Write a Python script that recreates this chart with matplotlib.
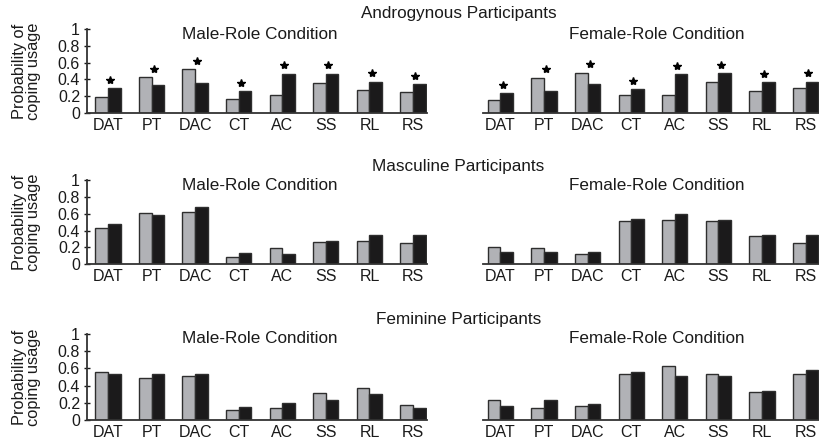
import numpy as np
import matplotlib
matplotlib.use("Agg")
from matplotlib import pyplot as plt

plt.rcParams['font.family'] = ['Liberation Sans', 'DejaVu Sans']

strategies = ['DAT', 'PT', 'DAC', 'CT', 'AC', 'SS', 'RL', 'RS']
groups = ['Androgynous Participants', 'Masculine Participants', 'Feminine Participants']
conditions = ['Male-Role Condition', 'Female-Role Condition']

# gray bars / black bars, one list per group and condition
andro_male_gray = [0.19, 0.43, 0.52, 0.17, 0.22, 0.36, 0.28, 0.25]
andro_male_black = [0.295, 0.335, 0.355, 0.26, 0.47, 0.47, 0.375, 0.345]
andro_female_gray = [0.155, 0.42, 0.48, 0.215, 0.215, 0.375, 0.267, 0.295]
andro_female_black = [0.235, 0.26, 0.347, 0.287, 0.462, 0.474, 0.367, 0.375]

masc_male_gray = [0.43, 0.605, 0.625, 0.087, 0.19, 0.26, 0.28, 0.253]
masc_male_black = [0.478, 0.59, 0.68, 0.134, 0.126, 0.273, 0.352, 0.352]
masc_female_gray = [0.20, 0.19, 0.123, 0.518, 0.53, 0.518, 0.332, 0.253]
masc_female_black = [0.146, 0.146, 0.146, 0.54, 0.597, 0.526, 0.352, 0.352]

fem_male_gray = [0.553, 0.494, 0.514, 0.12, 0.136, 0.311, 0.37, 0.171]
fem_male_black = [0.54, 0.54, 0.533, 0.152, 0.202, 0.233, 0.303, 0.144]
fem_female_gray = [0.23, 0.14, 0.167, 0.533, 0.623, 0.533, 0.33, 0.533]
fem_female_black = [0.163, 0.23, 0.183, 0.556, 0.517, 0.517, 0.342, 0.576]

# significance stars only on the androgynous row
starred = [True, False, False]

data = [
    [(andro_male_gray, andro_male_black), (andro_female_gray, andro_female_black)],
    [(masc_male_gray, masc_male_black), (masc_female_gray, masc_female_black)],
    [(fem_male_gray, fem_male_black), (fem_female_gray, fem_female_black)],
]

GRAY = '#b1b2b6'
BLACK = '#1b1a1b'
EDGE = '#2e2e2e'
TXT = '#1a1a1a'

fig = plt.figure(figsize=(8.2, 4.47), dpi=100)

rows = [(0.747, 0.188), (0.409, 0.188), (0.060, 0.193)]   # bottom, height
cols = [(0.1061, 0.4146, -0.48, 7.32), (0.589, 0.411, -0.40, 7.33)]
title_y = [0.969, 0.628, 0.286]
cond_x = [0.509, 0.516]

x = np.arange(len(strategies))
w = 0.29

for r, (bottom, height) in enumerate(rows):
    for c, (left, width, x0, x1) in enumerate(cols):
        ax = fig.add_axes([left, bottom, width, height])
        gray, black = data[r][c]
        ax.bar(x - w / 2, gray, w, color=GRAY, edgecolor=EDGE, linewidth=1.0)
        ax.bar(x + w / 2, black, w, color=BLACK, edgecolor=EDGE, linewidth=1.0)
        if starred[r]:
            tops = np.maximum(gray, black) + 0.1
            ax.plot(x + 0.05, tops, linestyle='none', marker='*', color='black', markersize=6)
        ax.set_xlim(x0, x1)
        ax.set_ylim(0, 1)
        ax.set_xticks(x)
        ax.set_xticklabels(strategies, fontsize=11.5)
        ax.tick_params(axis='x', length=0, pad=3.5, colors=TXT)
        for s in ['top', 'right']:
            ax.spines[s].set_visible(False)
        ax.spines['bottom'].set_color('#333333')
        ax.spines['bottom'].set_linewidth(1.3)
        if c == 0:
            ax.set_yticks([0, 0.2, 0.4, 0.6, 0.8, 1])
            ax.set_yticklabels(['0', '0.2', '0.4', '0.6', '0.8', '1'], fontsize=11.5)
            ax.tick_params(axis='y', direction='inout', length=4, width=1, pad=3, colors=TXT)
            ax.spines['left'].set_color('#333333')
            ax.spines['left'].set_linewidth(1.3)
            ax.spines['left'].set_bounds(0, 1)
        else:
            ax.spines['left'].set_visible(False)
            ax.set_yticks([])
        ax.text(cond_x[c], 1.03, conditions[c], transform=ax.transAxes,
                ha='center', va='top', fontsize=12.3, color=TXT)
        ax.patch.set_alpha(0)
    fig.text(0.559, title_y[r], groups[r], ha='center', va='center', fontsize=12.3, color=TXT)
    fig.text(0.032, bottom + height / 2, 'Probability of\ncoping usage', rotation=90,
             ha='center', va='center', fontsize=11.8, linespacing=0.95, color=TXT)

fig.savefig('out.png', dpi=100)
